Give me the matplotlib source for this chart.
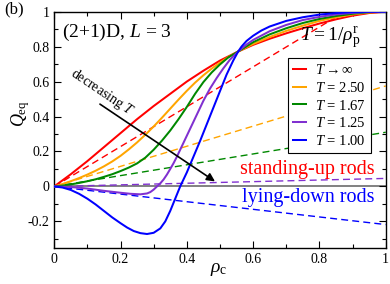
import matplotlib
matplotlib.use("Agg")
import matplotlib.pyplot as plt
from matplotlib.ticker import MultipleLocator, FixedLocator

plt.rcParams['font.family'] = ['Liberation Serif', 'DejaVu Serif']
plt.rcParams['mathtext.fontset'] = 'custom'
plt.rcParams['mathtext.rm'] = 'Liberation Serif'
plt.rcParams['mathtext.it'] = 'Liberation Serif:italic'
plt.rcParams['mathtext.cal'] = 'Liberation Serif'

# ---- data ----
rho_inf = [0.0, 0.05, 0.1, 0.15, 0.2, 0.25, 0.3, 0.35, 0.4, 0.45, 0.5, 0.555,
           0.6, 0.65, 0.7, 0.75, 0.8, 0.85, 0.9, 0.95, 1.0]
q_inf = [0.0, 0.07, 0.145, 0.225, 0.305, 0.385, 0.46, 0.53, 0.6, 0.662, 0.72, 0.772,
         0.81, 0.845, 0.876, 0.905, 0.932, 0.956, 0.977, 0.992, 1.0]

rho_fine = [0.0, 0.025, 0.05, 0.075, 0.1, 0.125, 0.15, 0.175, 0.2, 0.225, 0.25,
            0.275, 0.3, 0.325, 0.35, 0.375, 0.4, 0.425, 0.45, 0.475, 0.5, 0.525,
            0.555, 0.6, 0.65, 0.7, 0.75, 0.8, 0.85, 0.9, 0.95, 1.0]
q_250 = [0.0, 0.014, 0.03, 0.048, 0.068, 0.09, 0.115, 0.143, 0.175, 0.212, 0.252,
         0.296, 0.343, 0.393, 0.445, 0.497, 0.547, 0.594, 0.636, 0.674, 0.708, 0.74,
         0.772, 0.815, 0.855, 0.89, 0.92, 0.947, 0.968, 0.984, 0.995, 1.0]
q_167 = [0.0, 0.005, 0.012, 0.02, 0.03, 0.041, 0.055, 0.07, 0.088, 0.108, 0.132,
         0.165, 0.21, 0.262, 0.32, 0.385, 0.455, 0.53, 0.597, 0.652, 0.698, 0.738,
         0.772, 0.825, 0.87, 0.905, 0.935, 0.958, 0.975, 0.988, 0.997, 1.0]

rho_125 = [0.0, 0.05, 0.1, 0.15, 0.2, 0.23, 0.26, 0.28, 0.29, 0.3, 0.31, 0.32, 0.33,
           0.34, 0.35, 0.36, 0.37, 0.38, 0.39, 0.41, 0.43, 0.45, 0.47, 0.49, 0.51,
           0.53, 0.555, 0.58, 0.6, 0.65, 0.7, 0.75, 0.8, 0.85, 0.9, 0.95, 1.0]
q_125 = [0.0, -0.003, -0.012, -0.025, -0.036, -0.042, -0.045, -0.04, -0.032, -0.018,
         0.0, 0.018, 0.04, 0.068, 0.1, 0.133, 0.17, 0.21, 0.25, 0.33, 0.41, 0.49,
         0.56, 0.62, 0.675, 0.725, 0.772, 0.812, 0.838, 0.888, 0.924, 0.952, 0.97,
         0.984, 0.993, 0.998, 1.0]

rho_100 = [0.0, 0.025, 0.05, 0.075, 0.1, 0.125, 0.15, 0.175, 0.2, 0.22, 0.24, 0.26,
           0.28, 0.3, 0.32, 0.335, 0.35, 0.365, 0.38, 0.4, 0.42, 0.44, 0.46, 0.48,
           0.5, 0.52, 0.54, 0.555, 0.565, 0.58, 0.6, 0.625, 0.65, 0.7, 0.75, 0.8,
           0.85, 0.9, 0.95, 1.0]
q_100 = [0.0, -0.006, -0.02, -0.042, -0.07, -0.103, -0.14, -0.177, -0.21, -0.235,
         -0.255, -0.267, -0.272, -0.265, -0.24, -0.2, -0.14, -0.07, 0.0, 0.08, 0.17,
         0.26, 0.355, 0.45, 0.545, 0.64, 0.72, 0.772, 0.8, 0.832, 0.862, 0.892, 0.915,
         0.947, 0.968, 0.983, 0.992, 0.997, 0.999, 1.0]

# slopes of the dashed linear lines
dash_slopes = [1.14, 0.575, 0.31, 0.046, -0.218]

labels = [r'$T\rightarrow\infty$', r'$T$ = 2.50', r'$T$ = 1.67', r'$T$ = 1.25', r'$T$ = 1.00']
colors = ['#ff0000', '#ffa500', '#008800', '#8030d0', '#0000ff']

solid_x = [rho_inf, rho_fine, rho_fine, rho_125, rho_100]
solid_y = [q_inf, q_250, q_167, q_125, q_100]

fig = plt.figure(figsize=(3.9, 2.84), dpi=100)
ax = fig.add_axes([0.139, 0.128, 0.850, 0.831])

ax.axhline(0, color='#777777', lw=1.3, zorder=1)

for s, c in zip(dash_slopes, colors):
    xe = min(1.0, 1.0 / s) if s > 0 else 1.0
    ax.plot([0, xe], [0, s * xe], color=c, lw=1.0, ls=(0, (5, 3)), zorder=2)

handles = []
for xs, ys, c, lab in zip(solid_x, solid_y, colors, labels):
    h, = ax.plot(xs, ys, color=c, lw=1.45, label=lab, zorder=3,
                 solid_joinstyle='round')
    handles.append(h)

ax.set_xlim(0, 1)
ax.set_ylim(-0.35, 1.0)
ax.xaxis.set_major_locator(FixedLocator([0, 0.2, 0.4, 0.6, 0.8, 1.0]))
ax.xaxis.set_minor_locator(MultipleLocator(0.1))
ax.yaxis.set_major_locator(FixedLocator([-0.2, 0, 0.2, 0.4, 0.6, 0.8, 1.0]))
ax.yaxis.set_minor_locator(FixedLocator([-0.3, -0.1, 0.1, 0.3, 0.5, 0.7, 0.9]))
ax.set_xticklabels(['0', '0.2', '0.4', '0.6', '0.8', '1'])
ax.set_yticklabels(['-0.2', '0', '0.2', '0.4', '0.6', '0.8', '1'])
ax.tick_params(which='both', direction='in', top=True, right=True, labelsize=10)
ax.tick_params(which='major', length=5, width=0.8)
ax.tick_params(which='minor', length=3, width=0.8)
for sp in ax.spines.values():
    sp.set_linewidth(1.0)

fig.text(0.052, 0.60, r'$Q_{\rm eq}$', rotation=90, fontsize=13, ha='center', va='center')
fig.text(0.562, 0.05, r'$\rho_{\rm c}$', fontsize=14, ha='center', va='center')
fig.text(0.036, 0.966, '(b)', fontsize=12, ha='center', va='center')

ax.text(0.022, 0.914, r'(2+1)D, $L$ = 3', transform=ax.transAxes, fontsize=14,
        ha='left', va='center')
ax.text(0.832, 0.885, r'$T = 1/\rho_{\rm p}^{\rm r}$', transform=ax.transAxes,
        fontsize=14, ha='center', va='center')

leg = ax.legend(handles=handles, loc='upper right', bbox_to_anchor=(0.956, 0.803),
                fontsize=10.5, frameon=True, fancybox=False, framealpha=1,
                edgecolor='black', handlelength=0.9, handletextpad=0.6,
                labelspacing=0.25, borderpad=0.35, borderaxespad=0)
leg.get_frame().set_linewidth(0.8)

ax.annotate('', xy=(0.485, 0.029), xytext=(0.138, 0.471),
            arrowprops=dict(arrowstyle='-|>', color='black', lw=1.2,
                            mutation_scale=12, shrinkA=0, shrinkB=0), zorder=4)
ax.text(0.146, 0.535, r'decreasing $T$', rotation=-34, fontsize=10,
        ha='center', va='center', rotation_mode='anchor')

ax.text(0.763, 0.097, 'standing-up rods', color='#ff0000', fontsize=14.5,
        ha='center', va='center')
ax.text(0.766, -0.064, 'lying-down rods', color='#0000ff', fontsize=14.5,
        ha='center', va='center')

fig.savefig('out.png', dpi=100)
